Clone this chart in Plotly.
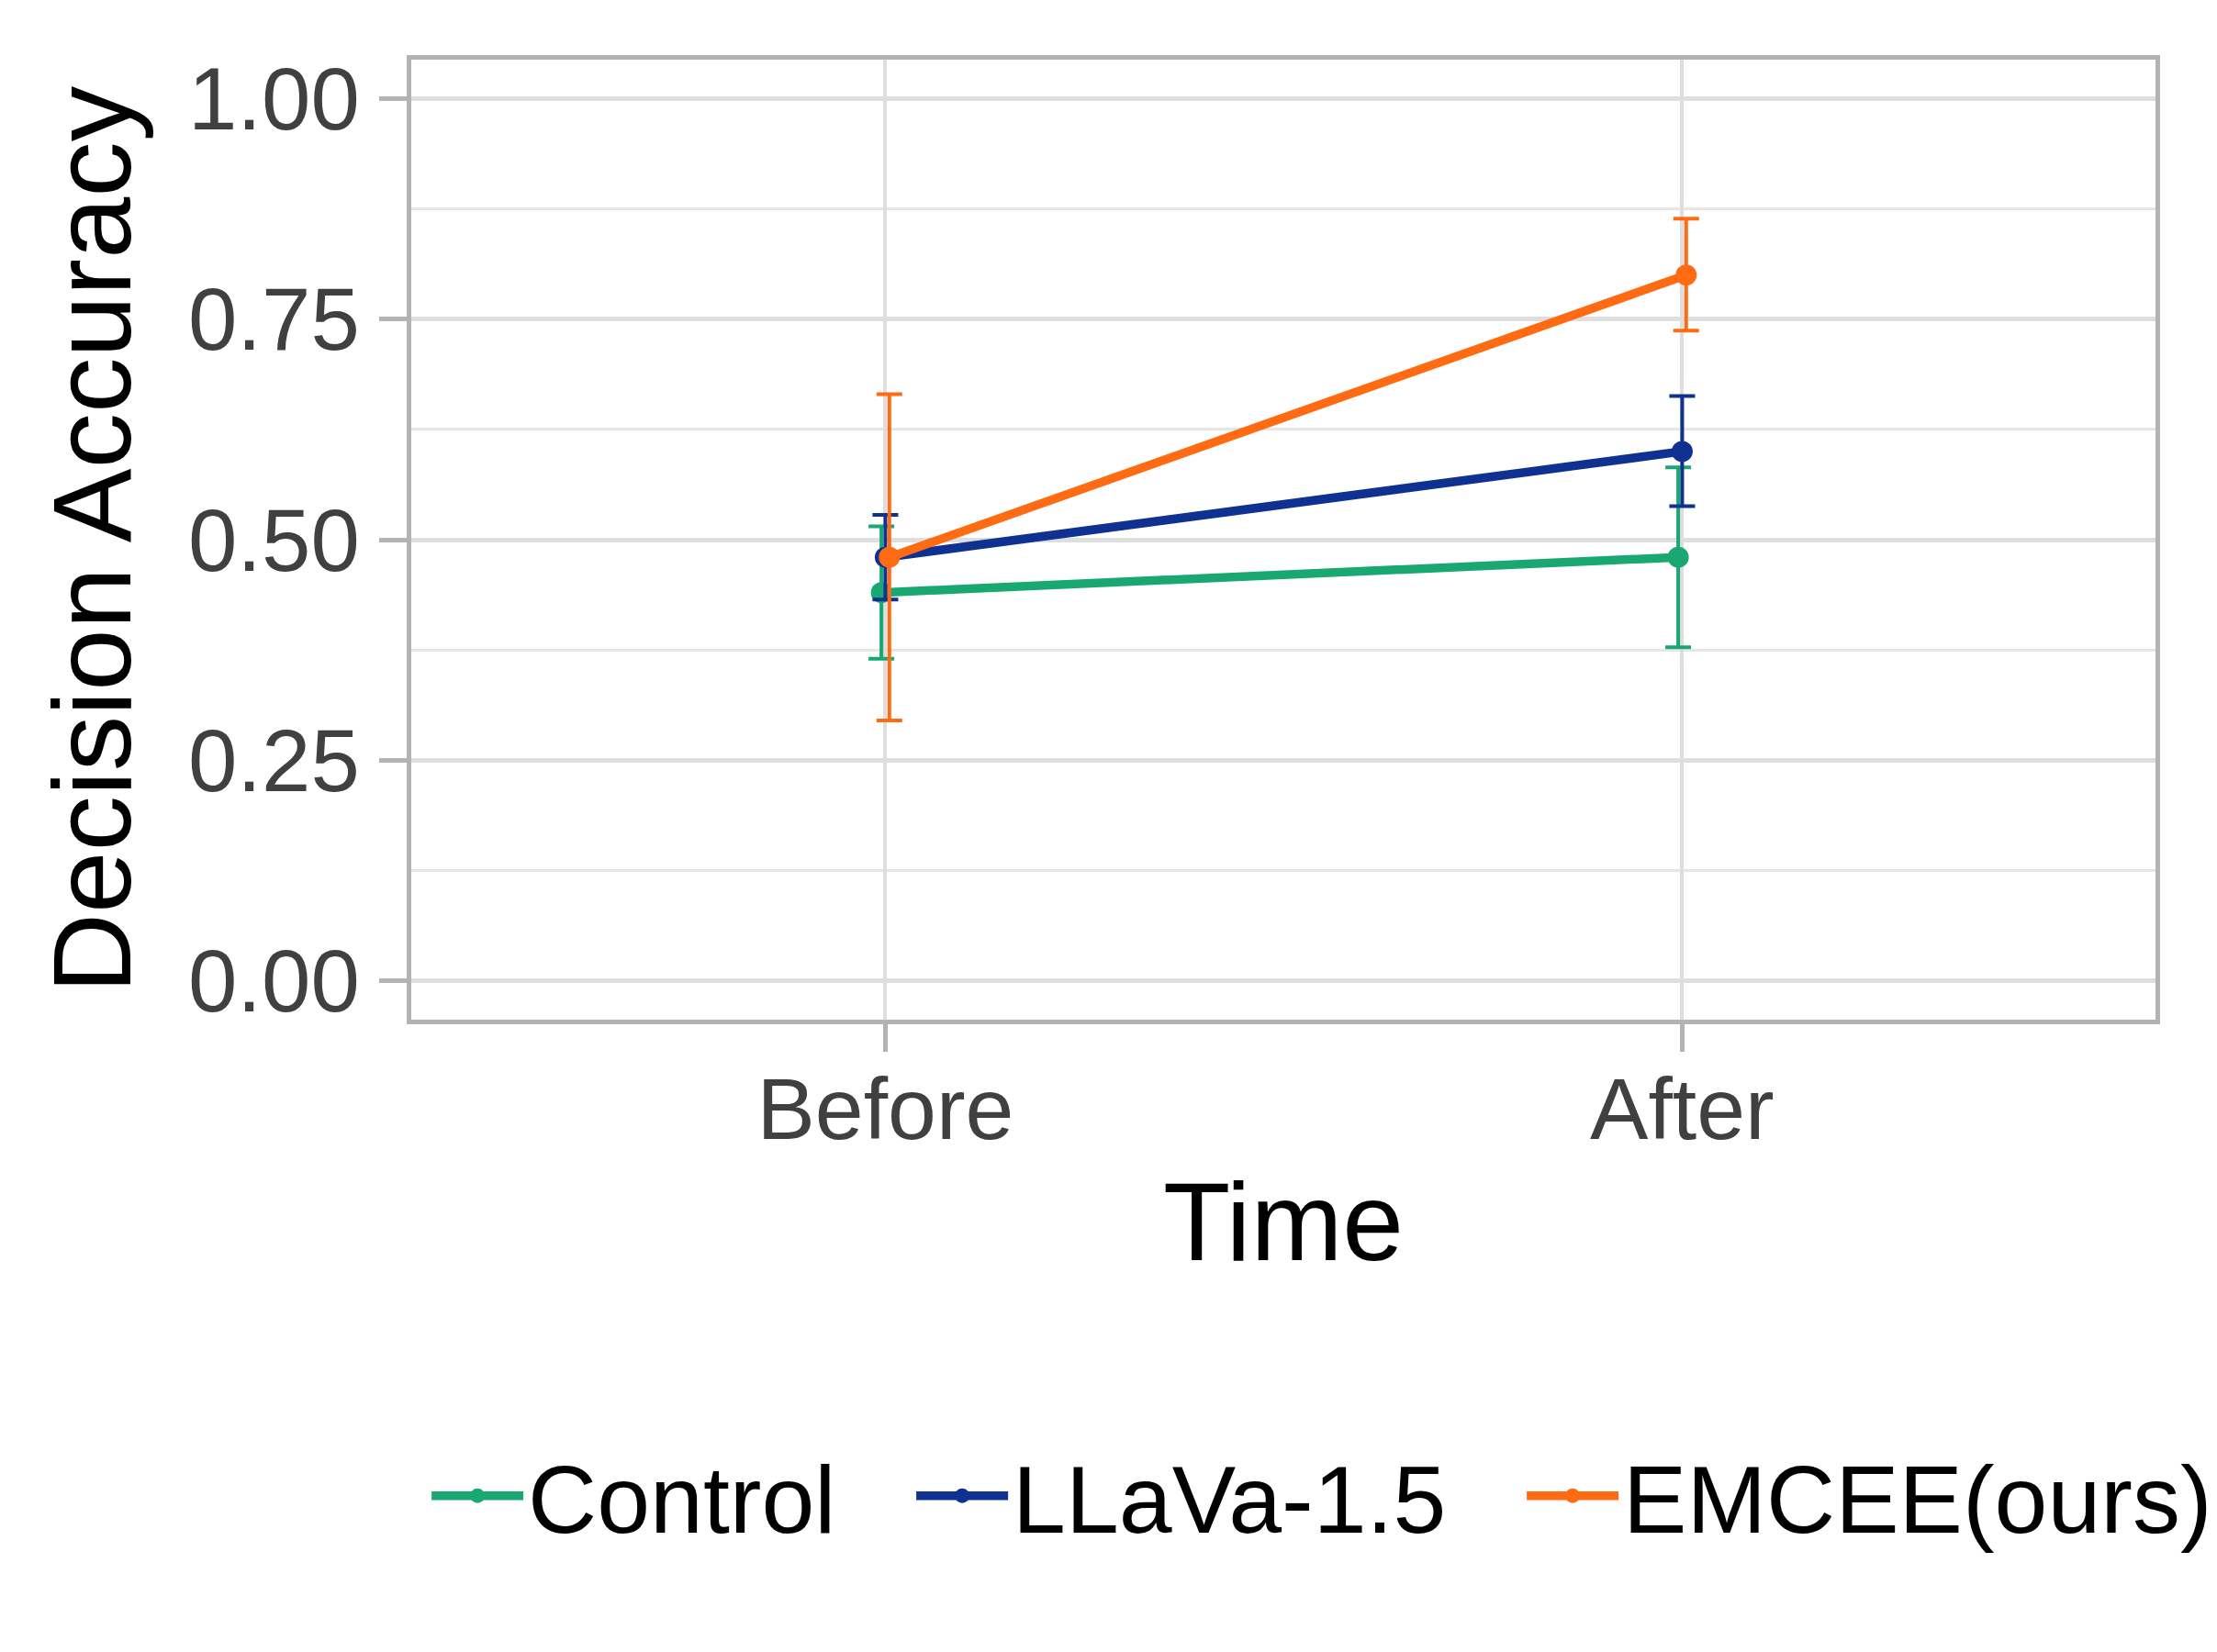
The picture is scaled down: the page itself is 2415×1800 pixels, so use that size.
import plotly.graph_objects as go

# x categories and groups
time_labels = ["Before", "After"]
time_pos = [1, 2]
groups = ["Control", "LLaVa-1.5", "EMCEE(ours)"]

# mean decision accuracy and confidence limits per group
control_mean = [0.44, 0.48]
control_lo = [0.365, 0.378]
control_hi = [0.515, 0.582]

llava_mean = [0.48, 0.60]
llava_lo = [0.432, 0.538]
llava_hi = [0.528, 0.663]

emcee_mean = [0.48, 0.80]
emcee_lo = [0.295, 0.737]
emcee_hi = [0.665, 0.864]

y_ticks = [0.0, 0.25, 0.5, 0.75, 1.0]
y_ticktext = ["0.00", "0.25", "0.50", "0.75", "1.00"]

colors = ["#1aa872", "#0e3192", "#ff6b12"]
dodge = [-0.005, 0.0, 0.005]
legend_ids = ["legend", "legend2", "legend3"]
legend_x = [0.009, 0.2869, 0.6369]

FONT = "Liberation Sans, Arial, sans-serif"

series = [
    (control_mean, control_lo, control_hi),
    (llava_mean, llava_lo, llava_hi),
    (emcee_mean, emcee_lo, emcee_hi),
]

fig = go.Figure()
for name, (m, lo, hi), col, dx, lg in zip(groups, series, colors, dodge, legend_ids):
    fig.add_trace(go.Scatter(
        x=[p + dx for p in time_pos],
        y=m,
        name=name,
        legend=lg,
        showlegend=True,
        mode="lines+markers",
        line=dict(color=col, width=9.5),
        marker=dict(color=col, size=23),
        error_y=dict(
            type="data",
            symmetric=False,
            array=[h - v for h, v in zip(hi, m)],
            arrayminus=[v - l for v, l in zip(m, lo)],
            color=col,
            thickness=4,
            width=14,
        ),
    ))

# one legend box per group so the spacing follows the reference
legends = {}
for lg, lx in zip(legend_ids, legend_x):
    legends[lg] = dict(
        orientation="h",
        x=lx,
        xanchor="left",
        y=-0.4962,
        yanchor="middle",
        itemwidth=100,
        font=dict(size=104, color="black", family=FONT),
        bgcolor="rgba(0,0,0,0)",
        visible=True,
    )

fig.update_layout(
    width=2415,
    height=1800,
    showlegend=True,
    paper_bgcolor="white",
    plot_bgcolor="white",
    margin=dict(l=440, r=75, t=57, b=697, autoexpand=False),
    font=dict(family=FONT, color="black"),
    **legends,
)

fig.update_xaxes(
    range=[0.405, 2.594],
    tickvals=time_pos,
    ticktext=time_labels,
    showgrid=True,
    gridcolor="#dedede",
    gridwidth=4,
    zeroline=False,
    showline=True,
    mirror=True,
    linecolor="#b3b3b3",
    linewidth=5,
    ticks="outside",
    ticklen=30,
    tickwidth=5,
    tickcolor="#b3b3b3",
    tickfont=dict(size=95, color="#404040", family=FONT),
    ticklabelstandoff=-19,
    title=dict(text="Time", font=dict(size=120, color="black", family=FONT), standoff=30),
)

fig.update_yaxes(
    range=[-0.0443, 1.0443],
    tickvals=y_ticks,
    ticktext=y_ticktext,
    showgrid=True,
    gridcolor="#dedede",
    gridwidth=5,
    minor=dict(dtick=0.125, tick0=0.125, showgrid=True, gridcolor="#e6e6e6", gridwidth=3, ticks=""),
    zeroline=False,
    showline=True,
    mirror=True,
    linecolor="#b3b3b3",
    linewidth=5,
    ticks="outside",
    ticklen=30,
    tickwidth=5,
    tickcolor="#b3b3b3",
    tickfont=dict(size=96, color="#404040", family=FONT),
    ticklabelstandoff=2,
    title=dict(text="Decision Accuracy", font=dict(size=121, color="black", family=FONT), standoff=23),
)

fig.write_html("out.html")
